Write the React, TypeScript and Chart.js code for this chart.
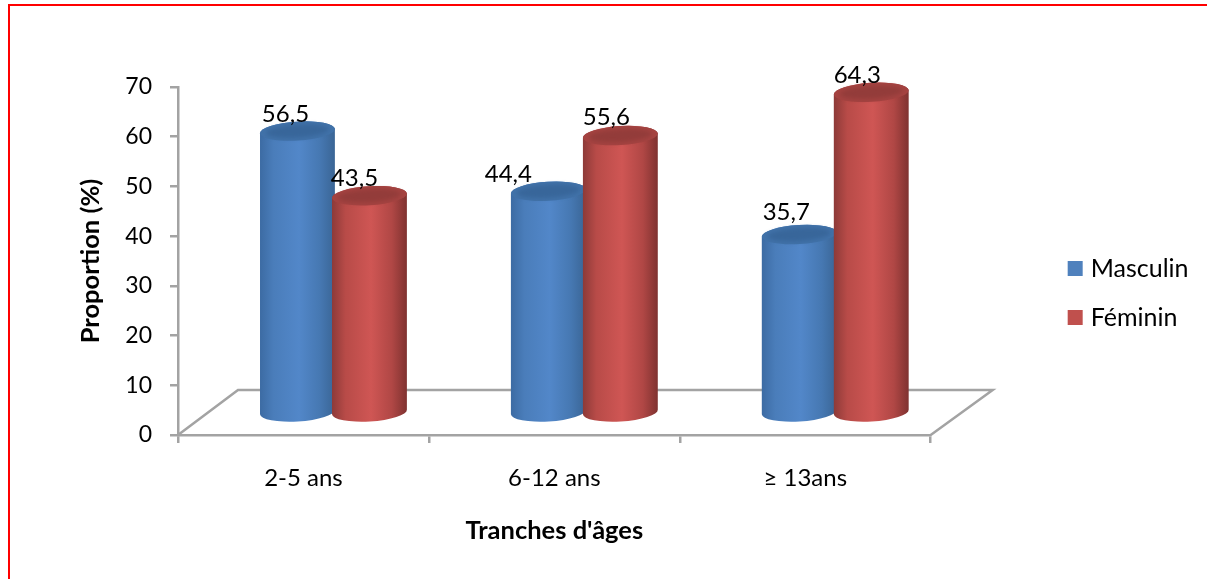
import { useEffect, useRef } from "react";
import { Chart, registerables } from "chart.js";

Chart.register(...registerables);

// Age bands and the share of each sex per band.
const categories = ["2-5 ans", "6-12 ans", "≥ 13ans"];
const masculin = [56.5, 44.4, 35.7];
const feminin = [43.5, 55.6, 64.3];
const seriesNames = ["Masculin", "Féminin"];

const FONT = "Lato, Carlito, sans-serif";
const AXIS_GREY = "#a3a3a3";
const TEXT_SIZE = 24;
const TITLE_SIZE = 25.5;

// The floor of the pseudo-3D box recedes up and to the right.
const DEPTH_X = 60;
const DEPTH_Y = 45;
const CYL_WIDTH = 75;
const CYL_RY = 9.5;
const CYL_TILT = -0.06;

// Cylinder shading, per series: edge, mid, centre, right mid, right edge, cap rim, cap centre.
const shades = [
  { left: "#3c6ba3", mid: "#4a7dba", centre: "#5287c9", midR: "#4678b2", right: "#3a6595", capA: "#4172a9", capB: "#38669a" },
  { left: "#8d3a38", mid: "#b84b48", centre: "#cf5654", midR: "#b04745", right: "#7f3230", capA: "#a54341", capB: "#933c3a" },
];

// Hand placement of the value labels relative to the top of each cylinder.
const labelNudge = [
  [[-12, -17], [-40, -17], [-13, -22]],
  [[-15, -17], [-14, -18], [-14, -17]],
];

function formatValue(v: number) {
  return v.toFixed(1).replace(".", ",");
}

function drawCylinder(ctx: CanvasRenderingContext2D, cx: number, topY: number, baseY: number, s: (typeof shades)[number]) {
  const rx = CYL_WIDTH / 2;
  const grad = ctx.createLinearGradient(cx - rx, 0, cx + rx, 0);
  grad.addColorStop(0, s.left);
  grad.addColorStop(0.18, s.mid);
  grad.addColorStop(0.52, s.centre);
  grad.addColorStop(0.8, s.midR);
  grad.addColorStop(1, s.right);

  ctx.save();
  ctx.fillStyle = grad;
  ctx.beginPath();
  ctx.ellipse(cx, baseY, rx, CYL_RY, CYL_TILT, Math.PI, 0, true);
  ctx.ellipse(cx, topY, rx, CYL_RY, CYL_TILT, 0, Math.PI, true);
  ctx.closePath();
  ctx.fill();

  // Cap: a lighter rim round a soft, darker middle.
  ctx.fillStyle = s.capA;
  ctx.beginPath();
  ctx.ellipse(cx, topY, rx, CYL_RY, CYL_TILT, 0, Math.PI * 2);
  ctx.fill();
  ctx.filter = "blur(2px)";
  ctx.fillStyle = s.capB;
  ctx.beginPath();
  ctx.ellipse(cx, topY, rx * 0.84, CYL_RY * 0.68, CYL_TILT, 0, Math.PI * 2);
  ctx.fill();
  ctx.restore();
}

const cylinderPlugin = {
  id: "cylinders",
  beforeDraw(chart: any) {
    // Red frame along the top and left of the figure.
    const { ctx, width, height } = chart;
    ctx.save();
    ctx.strokeStyle = "#ff0000";
    ctx.lineWidth = 2;
    ctx.beginPath();
    ctx.moveTo(9, height);
    ctx.lineTo(9, 5);
    ctx.lineTo(width, 5);
    ctx.stroke();
    ctx.restore();
  },
  beforeDatasetsDraw(chart: any) {
    const { ctx, chartArea } = chart;
    const { left, right, bottom } = chartArea;
    ctx.save();
    ctx.strokeStyle = AXIS_GREY;
    ctx.lineWidth = 2.5;
    ctx.lineJoin = "miter";
    ctx.beginPath();
    ctx.moveTo(left, bottom);
    ctx.lineTo(left + DEPTH_X, bottom - DEPTH_Y);
    ctx.lineTo(right + DEPTH_X + 2, bottom - DEPTH_Y);
    ctx.lineTo(right, bottom);
    ctx.stroke();
    ctx.restore();
  },
  // The flat bars are replaced by cylinders drawn once all datasets are laid out.
  beforeDatasetDraw() {
    return false;
  },
  afterDatasetsDraw(chart: any) {
    const { ctx, scales } = chart;
    const y = scales.y;
    const shiftY = 23;
    const shiftX = DEPTH_X / 2;
    chart.data.datasets.forEach((ds: any, di: number) => {
      chart.getDatasetMeta(di).data.forEach((bar: any, i: number) => {
        const cx = bar.x + shiftX;
        const topY = y.getPixelForValue(ds.data[i]) - shiftY;
        const baseY = y.getPixelForValue(0) - shiftY;
        drawCylinder(ctx, cx, topY, baseY, shades[di]);
      });
    });
    ctx.save();
    ctx.fillStyle = "#000";
    ctx.font = `${TEXT_SIZE}px ${FONT}`;
    ctx.textAlign = "center";
    ctx.textBaseline = "middle";
    chart.data.datasets.forEach((ds: any, di: number) => {
      chart.getDatasetMeta(di).data.forEach((bar: any, i: number) => {
        const topY = y.getPixelForValue(ds.data[i]) - shiftY;
        const [nx, ny] = labelNudge[di][i];
        ctx.fillText(formatValue(ds.data[i]), bar.x + shiftX + nx, topY + ny);
      });
    });
    ctx.restore();
  },
  afterLayout(chart: any) {
    // Move the legend out to the right margin and down beside the plot.
    const legend = chart.legend;
    legend.left += 117.5;
    legend.right += 117.5;
    legend.top -= 40;
    legend.bottom -= 40;
  },
};

export default function App() {
  const ref = useRef<HTMLCanvasElement>(null);

  useEffect(() => {
    const chart = new Chart(ref.current!, {
      type: "bar",
      data: {
        labels: categories,
        datasets: [
          { label: seriesNames[0], data: masculin, backgroundColor: "#4f81bd" },
          { label: seriesNames[1], data: feminin, backgroundColor: "#c0504d" },
        ],
      },
      plugins: [cylinderPlugin],
      options: {
        animation: false,
        responsive: false,
        layout: { padding: { left: 0, top: 87, right: 126, bottom: 0 } },
        categoryPercentage: 0.574,
        barPercentage: 1,
        plugins: {
          tooltip: { enabled: false },
          legend: {
            position: "right",
            labels: {
              usePointStyle: true,
              pointStyle: "rect",
              boxWidth: 6,
              boxHeight: 15,
              padding: 24,
              color: "#000",
              font: { family: FONT, size: 25 },
            },
          },
        },
        scales: {
          x: {
            grid: { drawOnChartArea: false, color: AXIS_GREY, tickLength: 8, lineWidth: 2.5 },
            border: { color: AXIS_GREY, width: 2.5 },
            ticks: { color: "#000", padding: 21, maxRotation: 0, font: { family: FONT, size: TEXT_SIZE } },
            title: {
              display: true,
              text: "Tranches d'âges",
              color: "#000",
              font: { family: FONT, size: TITLE_SIZE, weight: "bold" },
              padding: { top: 0, bottom: 33 },
            },
            afterFit(scale: any) {
              scale.height = 579 - 435;
            },
          },
          y: {
            min: 0,
            max: 70,
            grid: { drawOnChartArea: false, color: AXIS_GREY, tickLength: 8, lineWidth: 2.5 },
            border: { color: AXIS_GREY, width: 2.5 },
            ticks: { stepSize: 10, color: "#000", padding: 18, font: { family: FONT, size: 23 } },
            title: {
              display: true,
              text: "Proportion (%)",
              color: "#000",
              font: { family: FONT, size: TITLE_SIZE, weight: "bold" },
              padding: { top: 75, bottom: 0 },
            },
            afterFit(scale: any) {
              scale.width = 178;
            },
          },
        },
      },
    } as any);
    return () => chart.destroy();
  }, []);

  return (
    <div style={{ position: "absolute", left: 0, top: 0, width: 1207, height: 579, background: "#fff" }}>
      <canvas ref={ref} width={1207} height={579} style={{ display: "block" }} />
    </div>
  );
}
